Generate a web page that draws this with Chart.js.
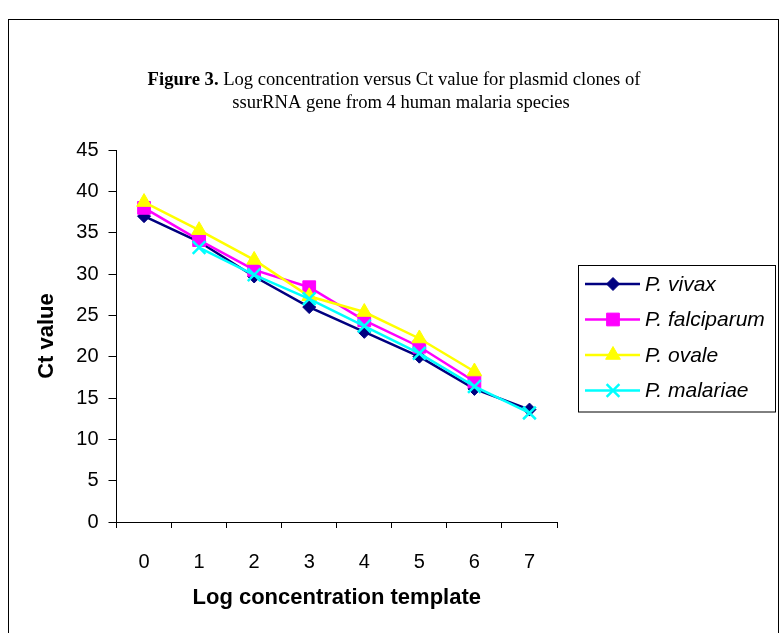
<!DOCTYPE html>
<html>
<head>
<meta charset="utf-8">
<script src="https://cdn.jsdelivr.net/npm/chart.js@4.4.0/dist/chart.umd.min.js"></script>
<style>
    html, body { margin: 0; padding: 0; background: #fff; }
    canvas { display: block; }
</style>
</head>
<body>
<canvas id="myChart" width="781" height="633"></canvas>
<script>
// values
const categories = ['0', '1', '2', '3', '4', '5', '6', '7'];
const vivax = [37.0, 33.9, 29.7, 26.0, 23.0, 20.0, 16.1, 13.6];
const falciparum = [38.0, 34.1, 30.5, 28.4, 24.4, 21.2, 17.0, null];
const ovale = [38.7, 35.3, 31.7, 27.3, 25.4, 22.2, 18.2, null];
const malariae = [null, 33.2, 29.9, 27.0, 23.7, 20.4, 16.4, 13.2];
const seriesNames = ['P. vivax', 'P. falciparum', 'P. ovale', 'P. malariae'];
const yMin = 0, yMax = 45, yStep = 5;

const SANS = '"Liberation Sans", Arial, sans-serif';
const SERIF = '"Liberation Serif", "Times New Roman", serif';

// white page + outer frame
const framePlugin = {
    id: 'framePlugin',
    beforeDraw(chart) {
        const ctx = chart.ctx;
        ctx.save();
        ctx.fillStyle = '#fff';
        ctx.fillRect(0, 0, chart.width, chart.height);
        ctx.strokeStyle = '#000';
        ctx.lineWidth = 1;
        ctx.strokeRect(8.5, 19.5, 770, 640);
        ctx.restore();
    }
};

// two line caption, "Figure 3." in bold
const captionPlugin = {
    id: 'captionPlugin',
    afterDraw(chart) {
        const ctx = chart.ctx;
        ctx.save();
        ctx.fillStyle = '#000';
        ctx.textBaseline = 'middle';
        const bold = 'bold 18.6px ' + SERIF;
        const normal = '18.6px ' + SERIF;
        const a = 'Figure 3.';
        const b = ' Log concentration versus Ct value for plasmid clones of';
        ctx.font = bold;
        const wa = ctx.measureText(a).width;
        ctx.font = normal;
        const wb = ctx.measureText(b).width;
        let x = 394 - (wa + wb) / 2;
        ctx.font = bold;
        ctx.textAlign = 'left';
        ctx.fillText(a, x, 80);
        ctx.font = normal;
        ctx.fillText(b, x + wa, 80);
        ctx.textAlign = 'center';
        ctx.fillText('ssurRNA gene from 4 human malaria species', 401, 103);
        ctx.restore();
    }
};

// boxed legend to the right of the plot
const legendBox = {
    id: 'legendBox',
    afterDraw(chart) {
        const ctx = chart.ctx;
        const x0 = 578, y0 = 265, w = 197, rowH = 35.5;
        const h = 17 * 2 + rowH * 3 + 6;
        ctx.save();
        ctx.strokeStyle = '#000';
        ctx.lineWidth = 1;
        ctx.strokeRect(x0 + 0.5, y0 + 0.5, w, h);
        chart.data.datasets.forEach((ds, i) => {
            const y = y0 + 19 + i * rowH;
            ctx.strokeStyle = ds.borderColor;
            ctx.lineWidth = ds.borderWidth;
            ctx.beginPath();
            ctx.moveTo(585, y);
            ctx.lineTo(640, y);
            ctx.stroke();
            ctx.fillStyle = ds.backgroundColor;
            ctx.lineWidth = ds.pointBorderWidth;
            Chart.helpers.drawPoint(ctx, {
                pointStyle: ds.pointStyle,
                radius: ds.pointRadius,
                borderWidth: ds.pointBorderWidth,
                rotation: 0
            }, 613, y);
            ctx.fillStyle = '#000';
            ctx.font = 'italic 21px ' + SANS;
            ctx.textAlign = 'left';
            ctx.textBaseline = 'middle';
            ctx.fillText(ds.label, 645, y + 1);
        });
        ctx.restore();
    }
};

const canvas = document.getElementById('myChart');

const myChart = new Chart(canvas, {
    type: 'line',
    data: {
        labels: categories,
        datasets: [{
            label: seriesNames[0],
            data: vivax,
            borderColor: '#000080',
            backgroundColor: '#000080',
            borderWidth: 2.5,
            pointStyle: 'rectRot',
            pointRadius: 6.5,
            pointBorderWidth: 1,
            order: 4
        }, {
            label: seriesNames[1],
            data: falciparum,
            borderColor: '#FF00FF',
            backgroundColor: '#FF00FF',
            borderWidth: 2.5,
            pointStyle: 'rect',
            pointRadius: 9,
            pointBorderWidth: 1,
            order: 3
        }, {
            label: seriesNames[2],
            data: ovale,
            borderColor: '#FFFF00',
            backgroundColor: '#FFFF00',
            borderWidth: 2.5,
            pointStyle: 'triangle',
            pointRadius: 8.5,
            pointBorderWidth: 1,
            order: 2
        }, {
            label: seriesNames[3],
            data: malariae,
            borderColor: '#00FFFF',
            backgroundColor: '#00FFFF',
            borderWidth: 2.5,
            pointStyle: 'crossRot',
            pointRadius: 9,
            pointBorderWidth: 2.5,
            order: 1
        }]
    },
    options: {
        responsive: false,
        animation: false,
        devicePixelRatio: 1,
        layout: {
            padding: { left: 0, right: 224, top: 150, bottom: 0 }
        },
        elements: {
            line: { tension: 0 }
        },
        scales: {
            x: {
                type: 'category',
                offset: true,
                grid: {
                    offset: true,
                    drawOnChartArea: false,
                    color: '#000',
                    tickLength: 6
                },
                border: { color: '#000', width: 1 },
                ticks: {
                    color: '#000',
                    padding: 22,
                    maxRotation: 0,
                    font: { family: SANS, size: 20 }
                },
                title: {
                    display: true,
                    text: 'Log concentration template',
                    color: '#000',
                    padding: { top: 0, bottom: 22 },
                    font: { family: SANS, size: 22, weight: 'bold' }
                },
                afterFit(scale) { scale.height = 111; }
            },
            y: {
                min: yMin,
                max: yMax,
                grid: {
                    drawOnChartArea: false,
                    color: '#000',
                    tickLength: 8
                },
                border: { color: '#000', width: 1 },
                ticks: {
                    stepSize: yStep,
                    color: '#000',
                    padding: 10,
                    font: { family: SANS, size: 20 }
                },
                title: {
                    display: true,
                    text: 'Ct value',
                    color: '#000',
                    padding: { top: 34, bottom: 0 },
                    font: { family: SANS, size: 22, weight: 'bold' }
                },
                afterFit(scale) { scale.width = 116.5; }
            }
        },
        plugins: {
            legend: { display: false },
            tooltip: { enabled: false }
        }
    },
    plugins: [framePlugin, captionPlugin, legendBox]
});
</script>
</body>
</html>
